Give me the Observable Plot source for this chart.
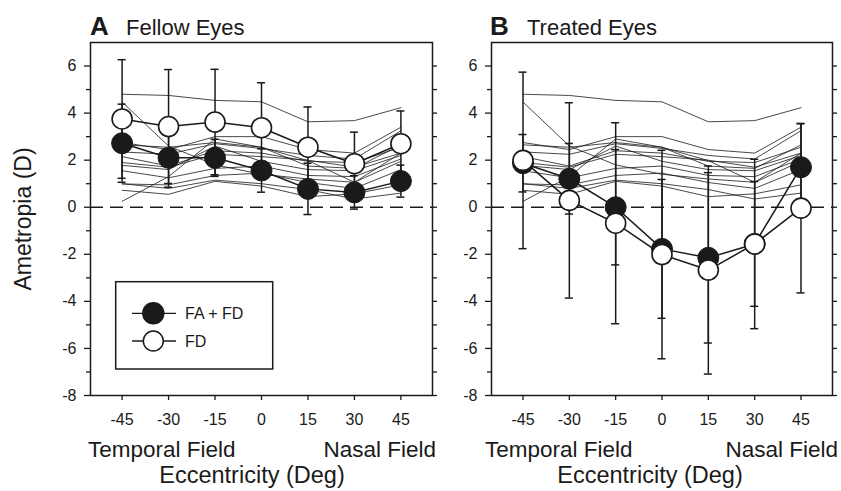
<!DOCTYPE html>
<html>
<head>
<meta charset="utf-8">
<script src="https://cdn.jsdelivr.net/npm/d3@7"></script>
<script src="https://cdn.jsdelivr.net/npm/@observablehq/plot@0.6"></script>
<style>
  body { margin: 0; background: #fff; }
  #wrap { position: relative; width: 841px; height: 491px; overflow: hidden;
          font-family: "Liberation Sans", Arial, Helvetica, sans-serif; color: #1a1a1a; }
  #wrap > svg, #wrap > .panel { position: absolute; top: 0; }
</style>
</head>
<body>
<div id="wrap"></div>
<script>
// ---------- data ----------
const eccentricities = [-45, -30, -15, 0, 15, 30, 45];
const xTickLabels = [-45, -30, -15, 0, 15, 30, 45];
const yTickLabels = [-8, -6, -4, -2, 0, 2, 4, 6];
const yMinorTicks = [-7, -5, -3, -1, 1, 3, 5];
const yAllTicks = [-8, -7, -6, -5, -4, -3, -2, -1, 0, 1, 2, 3, 4, 5, 6];

// Fellow eyes (panel A)
const fellowFAFD   = [2.72, 2.10, 2.10, 1.56, 0.78, 0.63, 1.11];
const fellowFAFDsd = [1.66, 1.25, 0.79, 0.92, 1.09, 0.71, 0.68];
const fellowFD     = [3.75, 3.43, 3.62, 3.38, 2.55, 1.85, 2.70];
const fellowFDsd   = [2.52, 2.42, 2.24, 1.91, 1.71, 1.34, 1.39];

// Treated eyes (panel B)
const treatedFAFD   = [1.87, 1.21, 0.00, -1.77, -2.15, -1.56, 1.70];
const treatedFAFDsd = [1.22, 1.50, 2.45, 2.95, 3.62, 2.65, 1.85];
const treatedFD     = [1.99, 0.29, -0.68, -2.01, -2.67, -1.56, -0.04];
const treatedFDsd   = [3.75, 4.15, 4.27, 4.43, 4.42, 3.60, 3.60];

// Individual thin lines (same in both panels)
const subjectLines = [
  [4.80, 4.75, 4.54, 4.48, 3.63, 3.68, 4.23],
  [4.47, 2.60, 1.80, 1.40, 1.20, 1.06, 2.30],
  [2.75, 2.45, 3.00, 3.00, 2.45, 2.30, 3.40],
  [2.65, 2.55, 2.75, 2.55, 1.98, 1.06, 1.95],
  [2.35, 2.25, 2.70, 2.50, 2.20, 2.05, 3.25],
  [2.15, 1.75, 2.40, 2.30, 1.95, 1.90, 2.55],
  [1.90, 1.70, 2.25, 2.15, 2.00, 1.70, 2.30],
  [1.78, 1.60, 2.60, 1.95, 1.60, 1.55, 2.20],
  [1.55, 1.25, 1.65, 1.75, 1.35, 1.30, 2.05],
  [0.99, 0.95, 1.35, 1.45, 1.05, 0.80, 1.60],
  [0.72, 0.55, 1.10, 0.90, 0.45, 0.57, 0.95],
  [0.25, 1.30, 2.90, 2.55, 1.75, 1.65, 2.65],
  [1.00, 0.80, 1.15, 1.00, 0.75, 0.35, 0.60]
];

const legendLabels = ["FA + FD", "FD"];

// ---------- helpers ----------
const FONT = '"Liberation Sans", Arial, Helvetica, sans-serif';
const INK = "#1a1a1a";
const plainNum = d => String(d); // hyphen-minus as in the reference

function rows(means, sds) {
  return eccentricities.map((x, i) => ({ x, y: means[i], lo: means[i] - sds[i], hi: means[i] + sds[i] }));
}
function caps(r) {
  return r.flatMap(d => [{ x: d.x, v: d.lo }, { x: d.x, v: d.hi }]);
}
const subjectRows = subjectLines.flatMap((vals, id) => vals.map((y, i) => ({ id, x: eccentricities[i], y })));

function panel({ fafd, fafdSd, fd, fdSd, width, marginLeft, marginRight }) {
  const a = rows(fafd, fafdSd);
  const b = rows(fd, fdSd);
  const capHalf = 1.3;
  return Plot.plot({
    width, height: 491,
    marginTop: 42, marginBottom: 96, marginLeft, marginRight,
    x: { domain: [-55.2, 55.2] },
    y: { domain: [-8, 7] },
    style: { fontFamily: FONT, fontSize: "16px", color: INK, background: "transparent", overflow: "visible" },
    marks: [
      Plot.ruleY([0], { stroke: INK, strokeWidth: 1.3, strokeDasharray: "13,7" }),
      Plot.line(subjectRows, { x: "x", y: "y", z: "id", stroke: INK, strokeWidth: 0.8 }),
      Plot.ruleX(a, { x: "x", y1: "lo", y2: "hi", stroke: INK, strokeWidth: 1.5 }),
      Plot.ruleX(b, { x: "x", y1: "lo", y2: "hi", stroke: INK, strokeWidth: 1.5 }),
      Plot.ruleY(caps(a).concat(caps(b)), { y: "v", x1: d => d.x - capHalf, x2: d => d.x + capHalf, stroke: INK, strokeWidth: 1.5 }),
      Plot.line(a, { x: "x", y: "y", stroke: INK, strokeWidth: 1.5 }),
      Plot.line(b, { x: "x", y: "y", stroke: INK, strokeWidth: 1.5 }),
      Plot.dot(a, { x: "x", y: "y", r: 10.5, fill: INK, stroke: INK, strokeWidth: 1 }),
      Plot.dot(b, { x: "x", y: "y", r: 10, fill: "white", stroke: INK, strokeWidth: 1.6 }),
      Plot.frame({ stroke: INK, strokeWidth: 1.5 }),
      Plot.axisX(xTickLabels, { anchor: "bottom", tickSize: 5, tickPadding: 13, tickFormat: plainNum, label: null, stroke: INK, strokeWidth: 1.3 }),
      Plot.axisY(yTickLabels, { anchor: "left", tickSize: 6, tickPadding: 8, tickFormat: plainNum, label: null, stroke: INK, strokeWidth: 1.3 }),
      Plot.axisY(yMinorTicks, { anchor: "left", tickSize: 4, tickFormat: () => "", label: null, stroke: INK, strokeWidth: 1.3 }),
      Plot.axisY(yAllTicks, { anchor: "right", tickSize: 4, tickFormat: () => "", label: null, stroke: INK, strokeWidth: 1.3 })
    ]
  });
}

const wrap = document.getElementById("wrap");

const pA = panel({ fafd: fellowFAFD, fafdSd: fellowFAFDsd, fd: fellowFD, fdSd: fellowFDsd,
                   width: 450, marginLeft: 90, marginRight: 18 });
pA.classList.add("panel"); pA.style.left = "0px";
wrap.appendChild(pA);

const pB = panel({ fafd: treatedFAFD, fafdSd: treatedFAFDsd, fd: treatedFD, fdSd: treatedFDsd,
                   width: 391, marginLeft: 41, marginRight: 9 });
pB.classList.add("panel"); pB.style.left = "450px";
wrap.appendChild(pB);

// ---------- annotation overlay (titles, field labels, legend) ----------
const ns = "http://www.w3.org/2000/svg";
const ov = document.createElementNS(ns, "svg");
ov.setAttribute("width", 841); ov.setAttribute("height", 491);
ov.style.left = "0px"; ov.style.pointerEvents = "none";
ov.setAttribute("font-family", FONT);
ov.setAttribute("fill", INK);
wrap.appendChild(ov);

function txt(s, x, y, size, opts = {}) {
  const t = document.createElementNS(ns, "text");
  t.setAttribute("x", x); t.setAttribute("y", y);
  t.setAttribute("font-size", size);
  if (opts.weight) t.setAttribute("font-weight", opts.weight);
  if (opts.anchor) t.setAttribute("text-anchor", opts.anchor);
  if (opts.transform) t.setAttribute("transform", opts.transform);
  t.textContent = s;
  ov.appendChild(t);
  return t;
}

txt("A", 90, 35, 26, { weight: "bold" });
txt("Fellow Eyes", 126, 35, 22);
txt("B", 490, 35, 26, { weight: "bold" });
txt("Treated Eyes", 527, 35, 22);

txt("Ametropia (D)", 0, 0, 23, { anchor: "middle", transform: "translate(31,219) rotate(-90)" });

txt("Temporal Field", 88, 457, 22.5);
txt("Nasal Field", 436, 457, 22.5, { anchor: "end" });
txt("Eccentricity (Deg)", 252, 483, 23.5, { anchor: "middle" });

txt("Temporal Field", 485, 457, 22.5);
txt("Nasal Field", 838, 457, 22.5, { anchor: "end" });
txt("Eccentricity (Deg)", 650, 483, 23.5, { anchor: "middle" });

// legend
const lg = document.createElementNS(ns, "g");
ov.appendChild(lg);
const box = document.createElementNS(ns, "rect");
box.setAttribute("x", 115.7); box.setAttribute("y", 281.7);
box.setAttribute("width", 157); box.setAttribute("height", 87.3);
box.setAttribute("fill", "white"); box.setAttribute("stroke", INK); box.setAttribute("stroke-width", 1.5);
lg.appendChild(box);
legendLabels.forEach((lab, i) => {
  const cy = 313.3 + i * 27.7;
  const l = document.createElementNS(ns, "line");
  l.setAttribute("x1", 132); l.setAttribute("x2", 176); l.setAttribute("y1", cy); l.setAttribute("y2", cy);
  l.setAttribute("stroke", INK); l.setAttribute("stroke-width", 1.3);
  lg.appendChild(l);
  const c = document.createElementNS(ns, "circle");
  c.setAttribute("cx", 153.3); c.setAttribute("cy", cy); c.setAttribute("r", i === 0 ? 10.5 : 10);
  c.setAttribute("fill", i === 0 ? INK : "white"); c.setAttribute("stroke", INK); c.setAttribute("stroke-width", 1.5);
  lg.appendChild(c);
  const t = txt(lab, 185, cy + 6, 16);
  lg.appendChild(t);
});
</script>
</body>
</html>
